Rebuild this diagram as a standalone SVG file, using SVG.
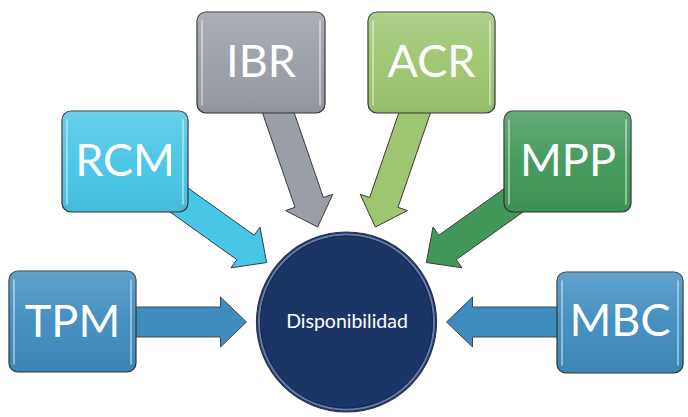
<svg xmlns="http://www.w3.org/2000/svg" width="688" height="417" viewBox="0 0 688 417">
  <style>
    .box { stroke: #333; stroke-width: 1.2; }
    .hl { fill: none; stroke: #ffffff; stroke-opacity: 0.55; stroke-width: 1.5; stroke-linecap: round; }
    .arrow { stroke: #3a3a3a; stroke-width: 0.9; stroke-linejoin: miter; }
    .lbl { font-family: "Lato", "Open Sans", "Liberation Sans", sans-serif; font-size: 45px; fill: #ffffff; text-anchor: middle; }
    .center { font-family: "Lato", "Open Sans", "Liberation Sans", sans-serif; font-size: 19.5px; fill: #ffffff; text-anchor: middle; }
  </style>
  <defs>
    <linearGradient id="gloss" x1="0" y1="0" x2="0" y2="1">
      <stop offset="0" stop-color="#ffffff" stop-opacity="0.18"/>
      <stop offset="0.5" stop-color="#ffffff" stop-opacity="0.03"/>
      <stop offset="1" stop-color="#000000" stop-opacity="0.06"/>
    </linearGradient>
    <path id="arr" d="M0,-15 L148,-15 L148,-25 L174,0 L148,25 L148,15 L0,15 Z"/>
  </defs>
  <rect width="688" height="417" fill="#ffffff"/>

  <g id="connectors">
    <use href="#arr" class="arrow" fill="#3f8dbf" transform="translate(72.5,322) rotate(0)"/>
    <use href="#arr" class="arrow" fill="#48c6e6" transform="translate(125,161.5) rotate(35.5)"/>
    <use href="#arr" class="arrow" fill="#9a9ea6" transform="translate(261,62.5) rotate(71)"/>
    <use href="#arr" class="arrow" fill="#9ec671" transform="translate(432,62.5) rotate(109)"/>
    <use href="#arr" class="arrow" fill="#42985a" transform="translate(568,161.5) rotate(144.5)"/>
    <use href="#arr" class="arrow" fill="#3f8dbf" transform="translate(620.5,322) rotate(180)"/>
  </g>

  <g id="tpm">
    <rect class="box" x="9" y="271" width="127" height="101" rx="9" fill="#3f8dbf"/>
    <rect x="9" y="271" width="127" height="101" rx="9" fill="url(#gloss)"/>
    <path class="hl" d="M14,280 V364 M131,280 V364"/>
    <text class="lbl" x="72.5" y="337">TPM</text>
  </g>
  <g id="rcm">
    <rect class="box" x="62" y="111" width="126" height="101" rx="9" fill="#48c6e6"/>
    <rect x="62" y="111" width="126" height="101" rx="9" fill="url(#gloss)"/>
    <path class="hl" d="M67,120 V204 M183,120 V204"/>
    <text class="lbl" x="125" y="176">RCM</text>
  </g>
  <g id="ibr">
    <rect class="box" x="197" y="12" width="128" height="101" rx="9" fill="#9a9ea6"/>
    <rect x="197" y="12" width="128" height="101" rx="9" fill="url(#gloss)"/>
    <path class="hl" d="M202,21 V105 M320,21 V105"/>
    <text class="lbl" x="261" y="77">IBR</text>
  </g>
  <g id="acr">
    <rect class="box" x="368" y="12" width="127" height="101" rx="9" fill="#9ec671"/>
    <rect x="368" y="12" width="127" height="101" rx="9" fill="url(#gloss)"/>
    <path class="hl" d="M373,21 V105 M490,21 V105"/>
    <text class="lbl" x="431.5" y="77">ACR</text>
  </g>
  <g id="mpp">
    <rect class="box" x="504" y="111" width="127" height="101" rx="9" fill="#42985a"/>
    <rect x="504" y="111" width="127" height="101" rx="9" fill="url(#gloss)"/>
    <path class="hl" d="M509,120 V204 M626,120 V204"/>
    <text class="lbl" x="568" y="176">MPP</text>
  </g>
  <g id="mbc">
    <rect class="box" x="557" y="272" width="126" height="101" rx="9" fill="#3f8dbf"/>
    <rect x="557" y="272" width="126" height="101" rx="9" fill="url(#gloss)"/>
    <path class="hl" d="M562,281 V365 M678,281 V365"/>
    <text class="lbl" x="620" y="336">MBC</text>
  </g>

  <g id="disponibilidad">
    <circle cx="346.5" cy="322" r="90" fill="#1c3567" stroke="#2b3552" stroke-width="1.2"/>
    <circle cx="346.5" cy="322" r="87.5" fill="none" stroke="#7d8fb8" stroke-width="2" stroke-opacity="0.8"/>
    <circle cx="346.5" cy="322" r="86" fill="none" stroke="#14264d" stroke-width="1"/>
    <text class="center" x="347" y="328">Disponibilidad</text>
  </g>
</svg>
